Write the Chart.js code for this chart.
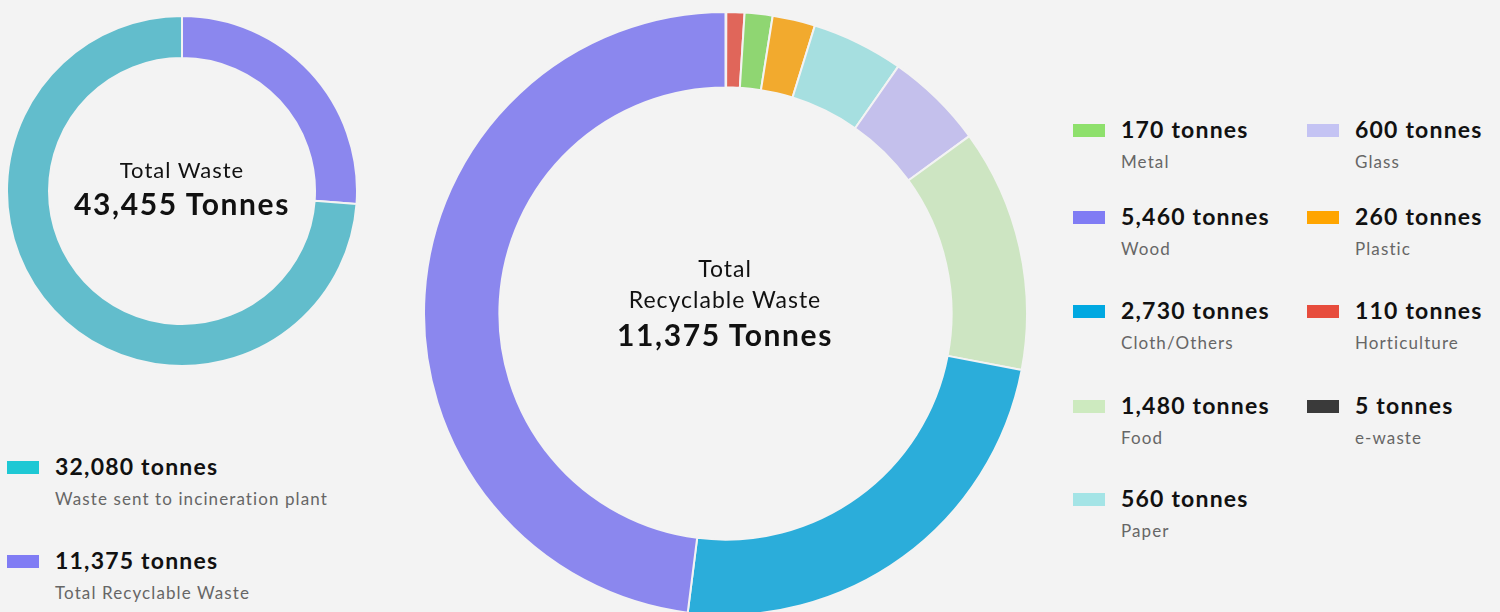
<!DOCTYPE html>
<html>
<head>
<meta charset="utf-8">
<script src="https://cdn.jsdelivr.net/npm/chart.js@4.4.0/dist/chart.umd.min.js"></script>
<style>
  html, body { margin: 0; padding: 0; }
  body {
    width: 1500px; height: 612px; overflow: hidden; position: relative;
    background: #f3f3f3; font-family: Lato, "Open Sans", sans-serif;
  }
  .box { position: absolute; }
  .center { position: absolute; text-align: center; color: #111; line-height: 1; }
  .center .t { font-size: 22px; font-weight: 400; letter-spacing: 1px; }
  .center .v { font-size: 30px; font-weight: 700; letter-spacing: 1.6px; }
  .item { position: absolute; }
  .item .sw { position: absolute; left: 0; top: 0; width: 32px; height: 13px; }
  .item .val { position: absolute; left: 48px; top: -9px; font-size: 23px; font-weight: 700; color: #111; white-space: nowrap; letter-spacing: 1.2px; }
  .item .lab { position: absolute; left: 48px; top: 27px; font-size: 17px; color: #666; white-space: nowrap; letter-spacing: 1.1px; }
</style>
</head>
<body>
<div class="box" style="left:6px;top:15px;width:352px;height:352px;"><canvas id="total-chart"></canvas></div>
<div class="box" style="left:423px;top:11px;width:605px;height:605px;"><canvas id="recycle-chart"></canvas></div>

<div class="center" style="left:32px;top:159px;width:300px;">
  <div class="t">Total Waste</div>
  <div class="v" style="margin-top:7px;">43,455 Tonnes</div>
</div>
<div class="center" style="left:575px;top:257px;width:300px;">
  <div class="t" style="font-size:23px;">Total</div>
  <div class="t" style="font-size:23px;margin-top:8px;">Recyclable Waste</div>
  <div class="v" style="margin-top:8px;">11,375 Tonnes</div>
</div>

<div id="legend"></div>

<script>
// Total waste split (drawn clockwise from top)
const totalLabels = ['Total Recyclable Waste', 'Waste sent to incineration plant'];
const totalValues = [11375, 32080];
const totalSliceColors = ['#8b87ee', '#62bdcc'];
const totalLegendColors = ['#807cf4', '#1ec8d4'];

// Recyclable waste breakdown (drawn clockwise from top)
const recycleLabels = ['e-waste', 'Horticulture', 'Metal', 'Plastic', 'Paper', 'Glass', 'Food', 'Cloth/Others', 'Wood'];
const recycleValues = [5, 110, 170, 260, 560, 600, 1480, 2730, 5460];
const recycleSliceColors = ['#444444', '#e0665a', '#8fd672', '#f2aa2e', '#a6dfe0', '#c4c0ec', '#cde5c2', '#2badda', '#8b87ee'];
const recycleLegendColors = ['#3a3a3a', '#e74c3c', '#8ee06c', '#ffa500', '#a4e4e6', '#c4c3f3', '#cdeabf', '#00a8e1', '#807cf4'];

// Legend order as shown on the right side (two columns)
const legendCol1 = ['Metal', 'Wood', 'Cloth/Others', 'Food', 'Paper'];
const legendCol2 = ['Glass', 'Plastic', 'Horticulture', 'e-waste'];
const legendRowsY = [124, 211, 305, 400, 493];

function fmt(n) {
  return n.toLocaleString('en-US') + ' tonnes';
}

function addLegendItem(x, y, color, value, label) {
  const el = document.createElement('div');
  el.className = 'item';
  el.style.left = x + 'px';
  el.style.top = y + 'px';
  el.innerHTML = '<div class="sw" style="background:' + color + '"></div>' +
    '<div class="val">' + fmt(value) + '</div>' +
    '<div class="lab">' + label + '</div>';
  document.getElementById('legend').appendChild(el);
}

function buildLegends() {
  // left legend: incineration first, then recyclable
  addLegendItem(7, 461, totalLegendColors[1], totalValues[1], totalLabels[1]);
  addLegendItem(7, 555, totalLegendColors[0], totalValues[0], totalLabels[0]);

  legendCol1.forEach((name, i) => {
    const k = recycleLabels.indexOf(name);
    addLegendItem(1073, legendRowsY[i], recycleLegendColors[k], recycleValues[k], name);
  });
  legendCol2.forEach((name, i) => {
    const k = recycleLabels.indexOf(name);
    addLegendItem(1307, legendRowsY[i], recycleLegendColors[k], recycleValues[k], name);
  });
}

function makeDoughnut(id, labels, values, colors, cutout) {
  const ctx = document.getElementById(id).getContext('2d');
  return new Chart(ctx, {
    type: 'doughnut',
    data: {
      labels: labels,
      datasets: [{
        data: values,
        backgroundColor: colors,
        borderColor: '#f3f3f3',
        borderWidth: 2
      }]
    },
    options: {
      responsive: true,
      maintainAspectRatio: false,
      animation: false,
      cutout: cutout,
      plugins: {
        legend: { display: false },
        tooltip: { enabled: false }
      }
    }
  });
}

buildLegends();
makeDoughnut('total-chart', totalLabels, totalValues, totalSliceColors, '76%');
makeDoughnut('recycle-chart', recycleLabels, recycleValues, recycleSliceColors, '75%');
</script>
</body>
</html>
